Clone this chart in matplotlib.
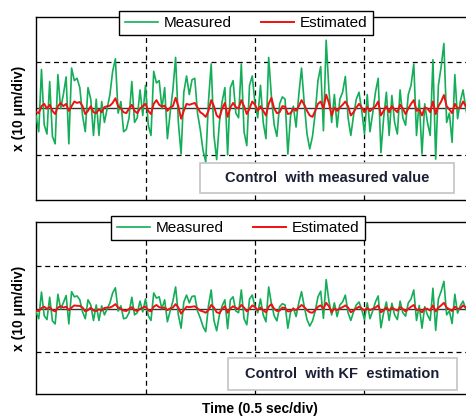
import numpy as np
import matplotlib
matplotlib.use("Agg")
import matplotlib.pyplot as plt
from matplotlib.patches import Rectangle

plt.rcParams['font.family'] = ['Liberation Sans', 'DejaVu Sans']

# sample spacing (s) and sample times
dt = 0.0125
n_samples = 161
time = np.arange(n_samples) * dt

# --- upper panel: control with measured value (units: 10 um/div) ---
measured_top = [
    -0.15, -0.5, 0.84, -0.35, -0.55, 0.58, -0.6, -0.76, 0.73, 0.0,
    0.3, 0.68, -0.76, 0.87, 0.6, 0.65, 0.45, -0.15, -0.5, 0.45,
    0.2, -0.58, 0.2, -0.58, 0.15, -0.3, 0.0, 0.3, 0.8, 1.07,
    -0.1, 0.15, -0.5, -0.45, -0.2, 0.58, -0.3, -0.2, 0.4, -0.15,
    0.5,
    -0.35, -0.58, 0.8, 0.55, 0.6, 0.0, 0.45, -0.65, -0.1, 0.4,
    1.1, -0.3, -0.98, 0.35, 0.7, 0.3, 0.62, 0.65, -0.1, -0.45,
    -0.9, -1.15, 0.15, 0.96, -0.58, -1.1, -0.3, 0.15, 0.45, -1.0,
    0.45, 0.6, -0.1, -0.2, 0.96, -0.5, -0.8, 0.5, 0.7, 0.1,
    -0.2, 0.5, -0.3, -0.65, 1.1, 0.25, -0.35, -0.6, 0.1, 0.25,
    0.2, -0.98, -0.15, 0.05, -0.4, 0.3, 0.87, 0.1, -0.55, -0.87,
    -0.6, -0.1, 0.6, 0.9, -0.48, 1.47, 0.4, -0.3, 0.3, -0.4,
    0.2, 0.35, 0.69, -0.2, -0.58, -0.15, 0.2, 0.35, -0.05,
    -0.55, 0.3, -0.5, -0.1, 0.35, 0.65, -0.95, -0.2, 0.35, -0.58,
    0.28, -0.3, -0.55, 0.4, -0.2, -0.36, 0.3, 0.5, 0.96, -0.58,
    0.18, -0.98, 0.1, -0.3, -0.58, 1.05, -1.09, 0.5, 0.9, 1.4,
    -0.3, -0.1, -0.73, 0.73, -0.22, 0.15, 0.4, 0.0, -0.3, 0.4,
    -0.2,
]
estimated_top = [
    -0.07, -0.1, 0.05, 0.1, 0.0, 0.08, -0.05, -0.12, 0.05, 0.12,
    0.05, 0.1, -0.05, 0.05, 0.15, 0.12, 0.14, 0.05, -0.12, -0.05,
    0.05, -0.08, -0.1, -0.02, -0.08, 0.03, 0.05, 0.06, 0.12, 0.22,
    0.05, 0.0, -0.08, -0.1, 0.0, 0.08, -0.05, -0.1, 0.0, 0.05,
    0.1,
    -0.05, -0.12, 0.1, 0.18, 0.08, 0.04, 0.06, -0.05, 0.02, 0.05,
    0.23, 0.05, -0.22, -0.05, 0.1, 0.08, 0.1, 0.12, 0.02, -0.08,
    -0.12, -0.18, -0.05, 0.18, 0.05, -0.15, -0.2, 0.0, 0.12, -0.18,
    0.02, 0.12, 0.03, 0.0, 0.18, 0.05, -0.12, 0.0, 0.15, 0.08,
    -0.05, 0.05, -0.05, -0.15, 0.1, 0.23, 0.0, -0.1, -0.08, 0.05,
    0.04, -0.12, -0.1, 0.0, -0.05, 0.05, 0.18, 0.08, -0.05, -0.15,
    -0.18, -0.05, 0.1, 0.15, 0.0, 0.3, 0.12, -0.15, 0.02, -0.05,
    0.02, 0.08, 0.15, 0.05, -0.15, -0.08, 0.02, 0.1, 0.02,
    -0.08, 0.03, -0.06, 0.0, 0.05, 0.15, -0.15, -0.05, 0.05, -0.08,
    0.05, -0.02, -0.08, 0.08, 0.0, -0.12, 0.0, 0.1, 0.18, -0.05,
    -0.02, -0.15, 0.02, 0.0, -0.08, 0.15, -0.12, 0.05, 0.15, 0.29,
    0.05, -0.02, -0.1, 0.1, 0.0, 0.02, 0.15, 0.05, -0.05, 0.08,
    0.0,
]

# --- lower panel: control with KF estimation ---
measured_bottom = [
    -0.07, -0.23, 0.39, -0.16, -0.25, 0.27, -0.28, -0.35, 0.34, 0.0,
    0.14, 0.31, -0.35, 0.4, 0.28, 0.3, 0.21, -0.07, -0.23, 0.21,
    0.09, -0.27, 0.09, -0.27, 0.07, -0.14, 0.0, 0.14, 0.37, 0.49,
    -0.05, 0.07, -0.23, -0.21, -0.09, 0.27, -0.14, -0.09, 0.18, -0.07,
    0.23,
    -0.16, -0.27, 0.37, 0.25, 0.28, 0.0, 0.21, -0.3, -0.05, 0.18,
    0.51, -0.14, -0.45, 0.16, 0.32, 0.14, 0.29, 0.3, -0.05, -0.21,
    -0.41, -0.53, 0.07, 0.44, -0.27, -0.51, -0.14, 0.07, 0.21, -0.46,
    0.21, 0.28, -0.05, -0.09, 0.44, -0.23, -0.37, 0.23, 0.32, 0.05,
    -0.09, 0.23, -0.14, -0.3, 0.51, 0.12, -0.16, -0.28, 0.05, 0.12,
    0.09, -0.45, -0.07, 0.02, -0.18, 0.14, 0.4, 0.05, -0.25, -0.4,
    -0.28, -0.05, 0.28, 0.41, -0.22, 0.68, 0.18, -0.14, 0.14, -0.18,
    0.09, 0.16, 0.32, -0.09, -0.27, -0.07, 0.09, 0.16, -0.02,
    -0.25, 0.14, -0.23, -0.05, 0.16, 0.3, -0.44, -0.09, 0.16, -0.27,
    0.13, -0.14, -0.25, 0.18, -0.09, -0.17, 0.14, 0.23, 0.44, -0.27,
    0.08, -0.45, 0.05, -0.14, -0.27, 0.48, -0.5, 0.23, 0.41, 0.64,
    -0.14, -0.05, -0.34, 0.34, -0.1, 0.07, 0.18, 0.0, -0.14, 0.18,
    -0.09,
]
estimated_bottom = [
    -0.04, -0.05, 0.02, 0.05, 0.0, 0.04, -0.03, -0.06, 0.03, 0.06,
    0.03, 0.05, -0.03, 0.03, 0.08, 0.07, 0.07, 0.03, -0.06, -0.03,
    0.03, -0.04, -0.05, -0.01, -0.04, 0.02, 0.03, 0.03, 0.06, 0.11,
    0.03, 0.0, -0.04, -0.05, 0.0, 0.04, -0.03, -0.05, 0.0, 0.03,
    0.05,
    -0.03, -0.06, 0.05, 0.09, 0.04, 0.02, 0.03, -0.03, 0.01, 0.03,
    0.11, 0.03, -0.11, -0.03, 0.05, 0.04, 0.05, 0.06, 0.01, -0.04,
    -0.06, -0.09, -0.03, 0.09, 0.03, -0.08, -0.1, 0.0, 0.06, -0.09,
    0.01, 0.06, 0.02, 0.0, 0.09, 0.03, -0.06, 0.0, 0.08, 0.04,
    -0.03, 0.03, -0.03, -0.08, 0.05, 0.11, 0.0, -0.05, -0.04, 0.03,
    0.02, -0.06, -0.05, 0.0, -0.03, 0.03, 0.09, 0.04, -0.03, -0.08,
    -0.09, -0.03, 0.05, 0.08, 0.0, 0.14, 0.06, -0.08, 0.01, -0.03,
    0.01, 0.04, 0.08, 0.03, -0.08, -0.04, 0.01, 0.05, 0.01,
    -0.04, 0.02, -0.03, 0.0, 0.03, 0.08, -0.08, -0.03, 0.03, -0.04,
    0.03, -0.01, -0.04, 0.04, 0.0, -0.06, 0.0, 0.05, 0.09, -0.03,
    -0.01, -0.08, 0.01, 0.0, -0.04, 0.08, -0.06, 0.03, 0.08, 0.14,
    0.03, -0.01, -0.05, 0.05, 0.0, 0.01, 0.08, 0.03, -0.03, 0.04,
    0.0,
]

series_labels = ["Measured", "Estimated"]
panel_titles = ["Control  with measured value", "Control  with KF  estimation"]
y_label = "x (10 μm/div)"
x_label = "Time (0.5 sec/div)"
time_div = [0.5, 1.0, 1.5]
amp_div = [-1.0, 1.0]

GREEN = "#14ad58"
RED = "#f01010"
TEXT_DARK = "#1b1f33"

W, H = 466, 419
fig = plt.figure(figsize=(W / 100, H / 100), dpi=100)


def px_rect(left, top, right, bottom):
    return [left / W, 1 - bottom / H, (right - left) / W, (bottom - top) / H]


panels = [
    dict(rect=px_rect(36, 17, 474, 200), ylim=(-1.97, 1.97),
         meas=measured_top, est=estimated_top,
         leg=(246, 23), box=(200, 163, 454, 193), title=panel_titles[0]),
    dict(rect=px_rect(36, 222, 474, 394), ylim=(-1.98, 2.02),
         meas=measured_bottom, est=estimated_bottom,
         leg=(238, 228), box=(228, 358, 457, 390), title=panel_titles[1]),
]

for p in panels:
    ax = fig.add_axes(p["rect"])
    ax.set_xlim(0, 2.0)
    ax.set_ylim(*p["ylim"])
    ax.set_xticks([])
    ax.set_yticks([])
    for s in ax.spines.values():
        s.set_linewidth(1.0)
        s.set_color("black")
    for t in time_div:
        ax.axvline(t, color="black", lw=0.9, ls=(0, (4, 3)), zorder=1)
    for a in amp_div:
        ax.axhline(a, color="black", lw=0.9, ls=(0, (4, 3)), zorder=1)
    ax.axhline(0, color="#333333", lw=1.0, zorder=2)
    l1, = ax.plot(time, p["meas"], color=GREEN, lw=1.2, zorder=3,
                  label=series_labels[0])
    l2, = ax.plot(time, p["est"], color=RED, lw=1.4, zorder=4,
                  label=series_labels[1])
    ax.set_ylabel(y_label, fontsize=10, fontweight="bold")
    ax.yaxis.set_label_coords(-10 / 438, 0.5)

    lx, ly = p["leg"]
    leg = fig.legend(handles=[l1, l2], loc="center",
                     bbox_to_anchor=(lx / W, 1 - ly / H), ncol=2,
                     frameon=True, fancybox=False, edgecolor="black",
                     framealpha=1, fontsize=11, handlelength=2.2,
                     handletextpad=0.35, columnspacing=1.9, borderpad=0.35,
                     borderaxespad=0)
    leg.get_frame().set_linewidth(1.0)

    bl, bt, br, bb = p["box"]
    fig.patches.append(Rectangle((bl / W, 1 - bb / H), (br - bl) / W,
                                 (bb - bt) / H, transform=fig.transFigure,
                                 facecolor="white", edgecolor="#c4c4c4",
                                 lw=1.2, zorder=5))
    fig.text((bl + br) / 2 / W, 1 - (bt + bb) / 2 / H, p["title"],
             ha="center", va="center", fontsize=10.5, fontweight="bold",
             color=TEXT_DARK, zorder=6)

fig.text(260 / W, 1 - 409 / H, x_label, ha="center", va="center",
         fontsize=10, fontweight="bold", color="black")

fig.savefig("out.png", dpi=100)
